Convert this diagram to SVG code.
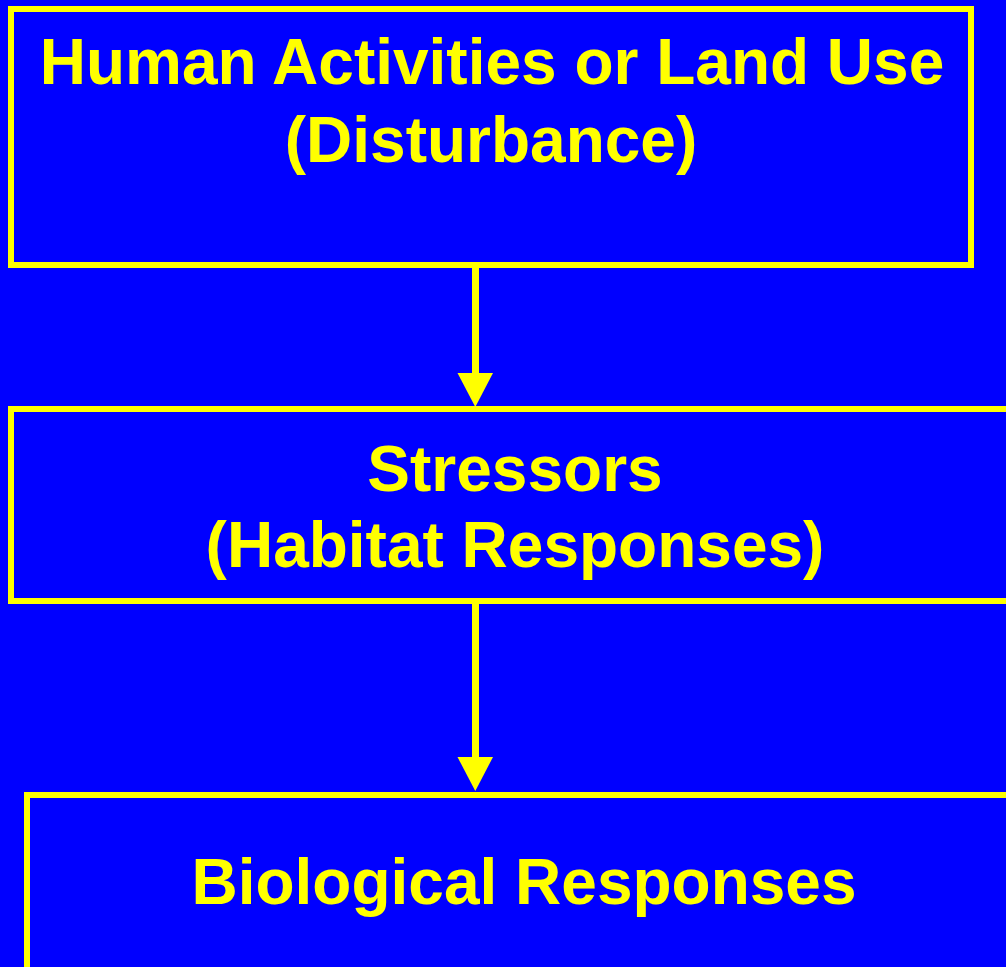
<svg xmlns="http://www.w3.org/2000/svg" width="1006" height="967" viewBox="0 0 1006 967">
  <defs>
    <style>
      .box { fill: #0000FF; stroke: #FFFF00; stroke-width: 6; }
      .label { fill: #FFFF00; font-family: "Liberation Sans", Arial, sans-serif; font-weight: bold; font-size: 64px; text-anchor: middle; }
      .link { stroke: #FFFF00; stroke-width: 7; fill: none; }
      .head { fill: #FFFF00; }
    </style>
  </defs>
  <rect x="0" y="0" width="1006" height="967" fill="#0000FF"/>

  <g id="connectors">
    <line class="link" x1="475.5" y1="265" x2="475.5" y2="376"/>
    <polygon class="head" points="457.5,373 493,373 475.3,407"/>
    <line class="link" x1="475.5" y1="601" x2="475.5" y2="760"/>
    <polygon class="head" points="457.5,757 493,757 475.3,791"/>
  </g>

  <g id="node-disturbance">
    <rect class="box" x="11" y="9" width="960" height="256"/>
    <text class="label" x="492" y="84">Human Activities or Land Use</text>
    <text class="label" x="491" y="162">(Disturbance)</text>
  </g>

  <g id="node-stressors">
    <rect class="box" x="11" y="409" width="1010" height="192"/>
    <text class="label" x="515" y="491">Stressors</text>
    <text class="label" x="515" y="567">(Habitat Responses)</text>
  </g>

  <g id="node-biological">
    <rect class="box" x="27" y="795" width="994" height="200"/>
    <text class="label" x="524" y="904">Biological Responses</text>
  </g>
</svg>
